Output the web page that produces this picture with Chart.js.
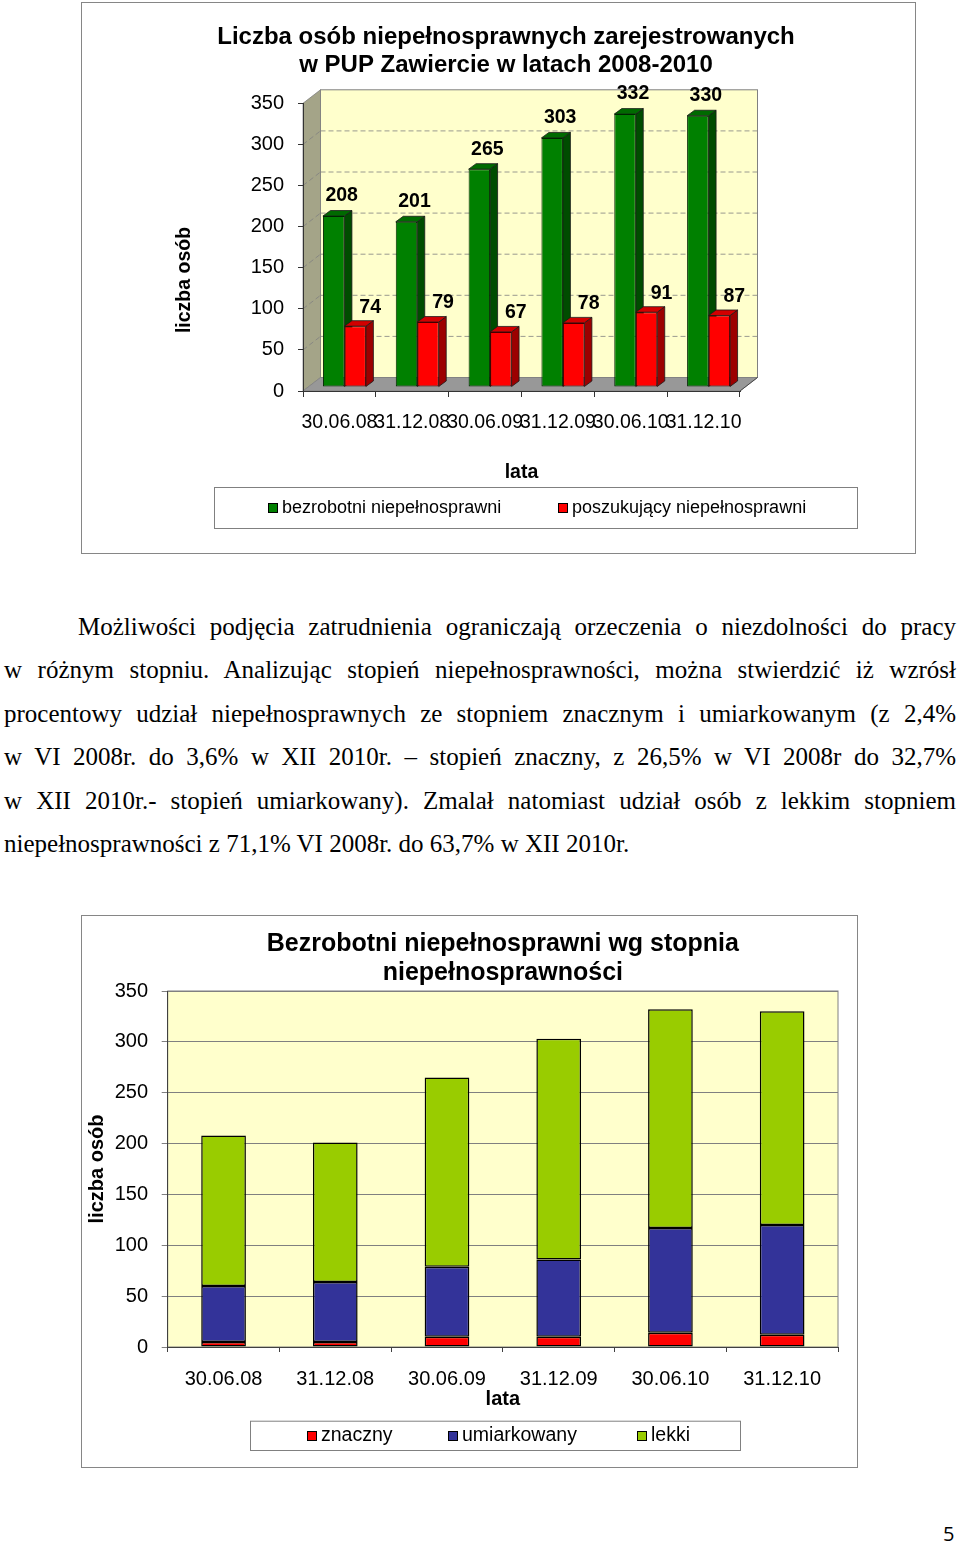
<!DOCTYPE html>
<html lang="pl">
<head>
<meta charset="utf-8">
<title>Niepełnosprawni w PUP Zawiercie 2008-2010</title>
<script src="https://cdn.jsdelivr.net/npm/chart.js@4.4.1/dist/chart.umd.min.js"></script>
<style>
body { margin: 0; background: #ffffff; width: 960px; height: 1545px; position: relative; overflow: hidden; }
.frame { position: absolute; border: 1px solid #868686; box-sizing: border-box; }
#frame1 { left: 81px; top: 2px; width: 835px; height: 552px; }
#frame2 { left: 81px; top: 915px; width: 777px; height: 553px; }
canvas { position: absolute; left: 0; }
#graph1 { top: 0; }
#graph2 { top: 905px; }
#textBlock { position: absolute; left: 4px; top: 605px; width: 952px; font-family: "Liberation Serif", "Times New Roman", serif; font-size: 25px; line-height: 43.4px; color: #000; }
#textBlock div { text-align: justify; text-align-last: justify; }
#textBlock .first { padding-left: 74px; }
#textBlock .last { text-align-last: left; }
#pageNumber { position: absolute; left: 943px; top: 1520px; font-family: "Open Sans", sans-serif; font-size: 20px; color: #000; }
</style>
</head>
<body>
<div class="frame" id="frame1"></div>
<canvas id="graph1" width="960" height="556"></canvas>

<div id="textBlock">
<div class="first">Możliwości podjęcia zatrudnienia ograniczają orzeczenia o niezdolności do pracy</div>
<div>w różnym stopniu. Analizując stopień niepełnosprawności, można stwierdzić iż wzrósł</div>
<div>procentowy udział niepełnosprawnych ze stopniem znacznym i umiarkowanym (z 2,4%</div>
<div>w VI 2008r. do 3,6% w XII 2010r. – stopień znaczny, z 26,5% w VI 2008r do 32,7%</div>
<div>w XII 2010r.- stopień umiarkowany). Zmalał natomiast udział osób z lekkim stopniem</div>
<div class="last">niepełnosprawności z 71,1% VI 2008r. do 63,7% w XII 2010r.</div>
</div>

<div class="frame" id="frame2"></div>
<canvas id="graph2" width="960" height="562"></canvas>

<div id="pageNumber">5</div>

<script>
Chart.defaults.font.family = "'Liberation Sans', Arial, sans-serif";
Chart.defaults.color = "#000";

//////////////////////////////////////////////////////////////////// DATA ////////////////////////////////////////////////////////////////////
var dateLabels = ["30.06.08", "31.12.08", "30.06.09", "31.12.09", "30.06.10", "31.12.10"];

// graph 1 : registered disabled persons
var unemployedDisabled = [208, 201, 265, 303, 332, 330];
var seekingDisabled = [74, 79, 67, 78, 91, 87];

// graph 2 : unemployed disabled by degree of disability
var severeDegree = [5, 5, 10, 10, 14, 12];
var moderateDegree = [55, 59, 69, 76, 103, 108];
var mildDegree = [148, 137, 186, 217, 215, 210];

var countTickMax = 350;
var countTickStep = 50;

var graph1Title = ["Liczba osób niepełnosprawnych zarejestrowanych", "w PUP Zawiercie w latach 2008-2010"];
var graph2Title = ["Bezrobotni niepełnosprawni wg stopnia", "niepełnosprawności"];
var graph1SeriesNames = ["bezrobotni niepełnosprawni", "poszukujący niepełnosprawni"];
var graph2SeriesNames = ["znaczny", "umiarkowany", "lekki"];
var yAxisTitle = "liczba osób";
var xAxisTitle = "lata";

var fontFamily = "'Liberation Sans', Arial, sans-serif";

//////////////////////////////////////////////////////////////////// GRAPH 1 ////////////////////////////////////////////////////////////////////
// depth of the walls, of the bars and where the bars stand inside the floor
var wallDepth = {x: 17.5, y: -13.5};
var barDepth = {x: 7.5, y: -5.5};
var barPlane = {x: 5, y: -4};

var graph1 = new Chart(document.getElementById("graph1"), {
    type: "bar",
    data: {
        labels: dateLabels,
        datasets: [
            {
                label: graph1SeriesNames[0],
                data: unemployedDisabled,
                backgroundColor: "#008000",
                borderColor: "#002400",
                borderWidth: 1,
                borderSkipped: false,
                categoryPercentage: 0.59,
                barPercentage: 1,
                clip: false,
                sideColor: "#004c00",
                topColor: "#006a00",
                labelOffset: {x: 8, y: -20}
            },
            {
                label: graph1SeriesNames[1],
                data: seekingDisabled,
                backgroundColor: "#ff0000",
                borderColor: "#400000",
                borderWidth: 1,
                borderSkipped: false,
                categoryPercentage: 0.59,
                barPercentage: 1,
                clip: false,
                sideColor: "#9c0000",
                topColor: "#d20000",
                labelOffset: {x: 15, y: -19}
            }
        ]
    },
    options: {
        responsive: false,
        animation: false,
        events: [],
        layout: {padding: {left: 200, right: 148, top: 10, bottom: 67.6}},
        plugins: {
            legend: {display: false},
            tooltip: {enabled: false},
            title: {
                display: true,
                text: graph1Title,
                font: {size: 24, weight: "bold", lineHeight: 28 / 24},
                padding: {top: 13, bottom: 24.3}
            }
        },
        scales: {
            x: {
                grid: {drawOnChartArea: false, tickLength: 6, color: "#333333"},
                border: {color: "#333333"},
                ticks: {font: {size: 19.5}, padding: 14, autoSkip: false, maxRotation: 0, minRotation: 0},
                title: {display: true, text: xAxisTitle, font: {size: 19.5, weight: "bold"}, padding: {top: 0, bottom: 4}},
                afterFit: function(scale){ scale.height = 97.4; }
            },
            y: {
                min: 0,
                max: countTickMax,
                ticks: {stepSize: countTickStep, font: {size: 20}, padding: 14},
                grid: {drawOnChartArea: false, tickLength: 5, color: "#333333"},
                border: {color: "#333333"},
                afterFit: function(scale){ scale.width = 103; }
            },
            // empty axis on the right so the title is centred like the original
            yRight: {
                position: "right",
                grid: {display: false},
                ticks: {display: false},
                border: {display: false},
                afterFit: function(scale){ scale.width = 72; }
            }
        }
    },
    plugins: [
        Create3DPlugin(),
        CreateSideTitlePlugin(yAxisTitle, 185, 280, 19.5),
        CreateBoxLegendPlugin({left: 214, top: 487, right: 857, bottom: 528}, [268, 558], 508, 18)
    ]
});

//////////////////////////////////////////////////////////////////// GRAPH 2 ////////////////////////////////////////////////////////////////////
var graph2 = new Chart(document.getElementById("graph2"), {
    type: "bar",
    data: {
        labels: dateLabels,
        datasets: [
            {label: graph2SeriesNames[0], data: severeDegree, backgroundColor: "#ff0000"},
            {label: graph2SeriesNames[1], data: moderateDegree, backgroundColor: "#333399"},
            {label: graph2SeriesNames[2], data: mildDegree, backgroundColor: "#99cc00"}
        ].map(function(dataset){
            dataset.borderColor = "#000000";
            dataset.borderWidth = 1.5;
            dataset.borderSkipped = false;
            dataset.categoryPercentage = 1;
            dataset.barPercentage = 0.4;
            return dataset;
        })
    },
    options: {
        responsive: false,
        animation: false,
        events: [],
        layout: {padding: {left: 81, right: 122, top: 10, bottom: 52}},
        plugins: {
            legend: {display: false},
            tooltip: {enabled: false},
            title: {
                display: true,
                fullSize: false,
                text: graph2Title,
                font: {size: 25, weight: "bold", lineHeight: 29 / 25},
                padding: {top: 14.5, bottom: 3.5}
            }
        },
        scales: {
            x: {
                stacked: true,
                grid: {drawOnChartArea: false, tickLength: 5, color: "#404040"},
                border: {color: "#404040"},
                ticks: {font: {size: 20}, padding: 15, autoSkip: false, maxRotation: 0, minRotation: 0},
                title: {display: true, text: xAxisTitle, font: {size: 20, weight: "bold"}, padding: {top: 0, bottom: 4}},
                afterFit: function(scale){ scale.height = 68; }
            },
            y: {
                stacked: true,
                min: 0,
                max: countTickMax,
                ticks: {stepSize: countTickStep, font: {size: 20}, padding: 13.7},
                grid: {tickLength: 6, color: "#808080"},
                border: {color: "#404040"},
                title: {display: true, text: yAxisTitle, font: {size: 20, weight: "bold"}, padding: {top: 4, bottom: 0}},
                afterFit: function(scale){ scale.width = 86.7; }
            }
        }
    },
    plugins: [
        CreatePlotBackgroundPlugin("#ffffcc", "#808080"),
        CreateBoxLegendPlugin({left: 250, top: 515.7, right: 740, bottom: 545}, [307, 448, 637], 531, 19.5)
    ]
});

//////////////////////////////////////////////////////////////////////////// GENERALS FUNCTIONS ////////////////////////////////////////////////////////////////////////////

/**
 * Plugin giving graph 1 its 3D look : walls, floor, bar sides and value labels
 * @returns {Object} the plugin
 */
function Create3DPlugin(){
    return {
        id: "fake3d",
        beforeDraw: function(chart){
            var ctx = chart.ctx;
            var area = chart.chartArea;
            var yScale = chart.scales.y;
            var dx = wallDepth.x, dy = wallDepth.y;
            ctx.save();
            ctx.lineWidth = 1;
            ctx.strokeStyle = "#808080";

            // back wall
            ctx.fillStyle = "#ffffcc";
            ctx.fillRect(area.left + dx, area.top + dy, area.right - area.left, area.bottom - area.top);
            ctx.strokeRect(area.left + dx, area.top + dy, area.right - area.left, area.bottom - area.top);

            // side wall
            fillPolygon(ctx, [[area.left, area.top], [area.left + dx, area.top + dy], [area.left + dx, area.bottom + dy], [area.left, area.bottom]], "#a4a488", "#808080");

            // dashed grid lines on the walls
            ctx.setLineDash([5, 3]);
            yScale.ticks.forEach(function(tick){
                if(tick.value == 0 || tick.value == countTickMax){
                    return;
                }
                var y = yScale.getPixelForValue(tick.value);
                ctx.beginPath();
                ctx.moveTo(area.left + dx, y + dy);
                ctx.lineTo(area.right + dx, y + dy);
                ctx.stroke();
                ctx.beginPath();
                ctx.moveTo(area.left, y);
                ctx.lineTo(area.left + dx, y + dy);
                ctx.stroke();
            });
            ctx.setLineDash([]);

            // floor
            fillPolygon(ctx, [[area.left, area.bottom], [area.left + dx, area.bottom + dy], [area.right + dx, area.bottom + dy], [area.right, area.bottom]], "#989898", "#808080");
            ctx.strokeStyle = "#333333";
            ctx.beginPath();
            ctx.moveTo(area.right, area.bottom);
            ctx.lineTo(area.right + dx, area.bottom + dy);
            ctx.stroke();
            ctx.restore();
        },
        beforeDatasetsDraw: function(chart){
            var ctx = chart.ctx;
            ctx.save();
            ctx.translate(barPlane.x, barPlane.y);
            chart.data.datasets.forEach(function(dataset, i){
                chart.getDatasetMeta(i).data.forEach(function(bar){
                    var p = bar.getProps(["x", "y", "base", "width"], true);
                    var l = p.x - p.width / 2, r = p.x + p.width / 2;
                    fillPolygon(ctx, [[r, p.y], [r + barDepth.x, p.y + barDepth.y], [r + barDepth.x, p.base + barDepth.y], [r, p.base]], dataset.sideColor, "#1a1a1a");
                    fillPolygon(ctx, [[l, p.y], [l + barDepth.x, p.y + barDepth.y], [r + barDepth.x, p.y + barDepth.y], [r, p.y]], dataset.topColor, "#1a1a1a");
                });
            });
            // the translation stays for the bars drawn by the library
        },
        afterDatasetsDraw: function(chart){
            var ctx = chart.ctx;
            ctx.restore();
            ctx.save();
            ctx.font = "bold 19.5px " + fontFamily;
            ctx.fillStyle = "#000";
            ctx.textAlign = "center";
            ctx.textBaseline = "middle";
            chart.data.datasets.forEach(function(dataset, i){
                chart.getDatasetMeta(i).data.forEach(function(bar, index){
                    var p = bar.getProps(["x", "y"], true);
                    ctx.fillText(String(dataset.data[index]), p.x + barPlane.x + dataset.labelOffset.x, p.y + barPlane.y + dataset.labelOffset.y);
                });
            });
            ctx.restore();
        }
    };
}

/**
 * Plugin drawing a rotated axis title at a free position
 * @param {String} text The title
 * @param {Number} x Center x in canvas pixels
 * @param {Number} y Center y in canvas pixels
 * @param {Number} fontSize Font size in pixels
 * @returns {Object} the plugin
 */
function CreateSideTitlePlugin(text, x, y, fontSize){
    return {
        id: "sideTitle",
        afterDraw: function(chart){
            var ctx = chart.ctx;
            ctx.save();
            ctx.translate(x, y);
            ctx.rotate(-Math.PI / 2);
            ctx.font = "bold " + fontSize + "px " + fontFamily;
            ctx.fillStyle = "#000";
            ctx.textAlign = "center";
            ctx.textBaseline = "middle";
            ctx.fillText(text, 0, 0);
            ctx.restore();
        }
    };
}

/**
 * Plugin drawing a framed legend built from the chart datasets
 * @param {Object} box The frame of the legend
 * @param {Array} markerXs The x of each colour square
 * @param {Number} centerY The middle line of the legend
 * @param {Number} fontSize Font size in pixels
 * @returns {Object} the plugin
 */
function CreateBoxLegendPlugin(box, markerXs, centerY, fontSize){
    return {
        id: "boxLegend",
        afterDraw: function(chart){
            var ctx = chart.ctx;
            ctx.save();
            ctx.lineWidth = 1;
            ctx.strokeStyle = "#808080";
            ctx.strokeRect(box.left + 0.5, box.top + 0.5, box.right - box.left, box.bottom - box.top);
            ctx.font = fontSize + "px " + fontFamily;
            ctx.textAlign = "left";
            ctx.textBaseline = "middle";
            chart.data.datasets.forEach(function(dataset, i){
                var mx = markerXs[i];
                ctx.fillStyle = dataset.backgroundColor;
                ctx.fillRect(mx, centerY - 5, 10, 10);
                ctx.strokeStyle = "#000";
                ctx.strokeRect(mx + 0.5, centerY - 4.5, 9, 9);
                ctx.fillStyle = "#000";
                ctx.fillText(dataset.label, mx + 14, centerY);
            });
            ctx.restore();
        }
    };
}

/**
 * Plugin filling the plot area and framing it
 * @param {String} fillColor The plot area colour
 * @param {String} lineColor The frame colour
 * @returns {Object} the plugin
 */
function CreatePlotBackgroundPlugin(fillColor, lineColor){
    return {
        id: "plotBackground",
        beforeDraw: function(chart){
            var ctx = chart.ctx;
            var area = chart.chartArea;
            ctx.save();
            ctx.fillStyle = fillColor;
            ctx.fillRect(area.left, area.top, area.right - area.left, area.bottom - area.top);
            ctx.strokeStyle = lineColor;
            ctx.lineWidth = 1;
            ctx.strokeRect(area.left, area.top, area.right - area.left, area.bottom - area.top);
            ctx.restore();
        }
    };
}

/**
 * Fill and outline a polygon
 * @param {CanvasRenderingContext2D} ctx The context
 * @param {Array} points Array of [x, y]
 * @param {String} fill Fill colour
 * @param {String} stroke Outline colour
 */
function fillPolygon(ctx, points, fill, stroke){
    ctx.beginPath();
    points.forEach(function(point, index){
        if(index == 0){
            ctx.moveTo(point[0], point[1]);
        }else{
            ctx.lineTo(point[0], point[1]);
        }
    });
    ctx.closePath();
    ctx.fillStyle = fill;
    ctx.fill();
    ctx.strokeStyle = stroke;
    ctx.lineWidth = 0.8;
    ctx.stroke();
}
</script>
</body>
</html>
